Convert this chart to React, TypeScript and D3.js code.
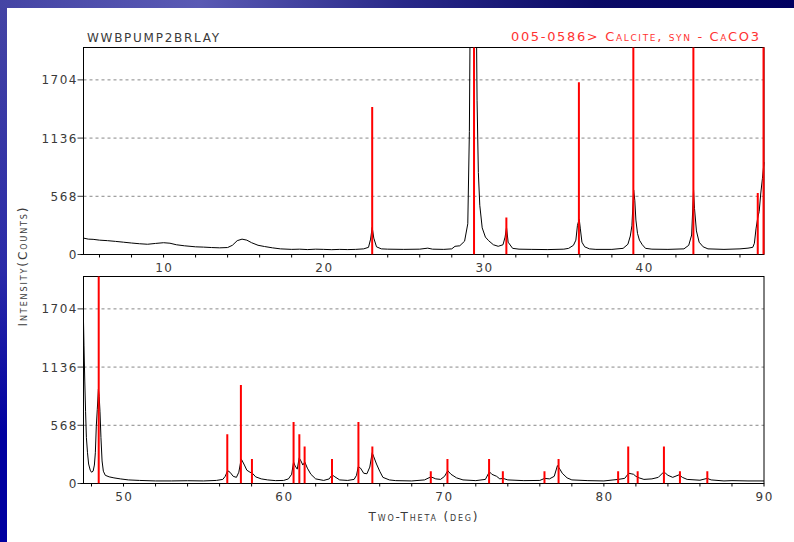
import React from 'react'
import * as d3 from 'd3'

const W = 794
const H = 542

const sampleName = 'WWBPUMP2BRLAY'
const refName = '005-0586> Calcite, syn - CaCO3'
const yLabel = 'Intensity(Counts)'
const xLabel = 'Two-Theta (deg)'

const yTicks = [0, 568, 1136, 1704]
const topTickLabels = [10, 20, 30, 40]
const bottomTickLabels = [50, 60, 70, 80, 90]

// measured pattern, [2-theta, counts]
const topTrace: [number, number][] = [
  [5.0, 160], [5.3, 150], [5.6, 148], [6.0, 140], [6.5, 135], [7.0, 128], [7.5, 120], [8.0, 112],
  [8.5, 105], [9.0, 100], [9.5, 108], [10.0, 115], [10.4, 110], [10.8, 95], [11.3, 85], [12.0, 75],
  [12.5, 72], [13.0, 68], [13.5, 65], [14.0, 68], [14.3, 90], [14.6, 135], [14.9, 150], [15.2, 140],
  [15.5, 115], [15.9, 90], [16.3, 78], [16.8, 65], [17.3, 55], [18.0, 50], [18.5, 52], [19.0, 48],
  [19.5, 52], [20.0, 50], [20.5, 47], [21.0, 50], [21.5, 48], [22.0, 50], [22.5, 55], [22.8, 70],
  [22.93, 150], [23.03, 265], [23.13, 160], [23.3, 75], [23.6, 55], [24.0, 52], [25.0, 50], [26.0, 52],
  [26.5, 62], [26.8, 52], [27.5, 50], [28.0, 55], [28.2, 80], [28.5, 85], [28.8, 130], [29.0, 300],
  [29.1, 1200], [29.2, 3500], [29.39, 9000], [29.5, 3000], [29.58, 1500], [29.66, 800], [29.75, 480],
  [29.9, 260], [30.1, 170], [30.3, 135], [30.6, 95], [30.9, 80], [31.2, 95], [31.33, 170], [31.42, 265],
  [31.52, 120], [31.8, 60], [32.2, 52], [33.0, 50], [34.0, 48], [35.0, 52], [35.3, 60], [35.6, 90],
  [35.75, 140], [35.85, 285], [35.96, 345], [36.03, 250], [36.13, 120], [36.3, 75], [36.6, 55],
  [37.0, 50], [38.0, 50], [38.7, 60], [39.0, 100], [39.15, 180], [39.25, 280], [39.36, 630], [39.43, 530],
  [39.5, 336], [39.6, 206], [39.72, 140], [39.9, 95], [40.1, 60], [40.5, 52], [41.5, 50], [42.5, 55],
  [42.8, 90], [42.98, 190], [43.1, 630], [43.16, 450], [43.28, 230], [43.45, 120], [43.7, 75], [44.0, 55],
  [45.0, 50], [46.0, 55], [46.5, 62], [46.8, 70], [46.9, 110], [47.0, 250], [47.1, 350], [47.2, 420],
  [47.3, 600], [47.4, 740], [47.5, 900],
]

const bottomTrace: [number, number][] = [
  [47.5, 1580], [47.53, 1350], [47.58, 1000], [47.63, 700], [47.68, 450], [47.75, 300], [47.82, 190],
  [47.92, 130], [48.0, 110], [48.1, 120], [48.18, 180], [48.24, 300], [48.3, 560], [48.36, 720],
  [48.43, 920], [48.48, 850], [48.53, 700], [48.59, 450], [48.66, 220], [48.74, 120], [48.86, 80],
  [49.1, 65], [49.4, 55], [49.8, 45], [50.3, 35], [51.0, 30], [52.0, 25], [53.0, 25], [54.0, 27],
  [55.0, 25], [55.8, 30], [56.2, 40], [56.35, 70], [56.5, 125], [56.65, 110], [56.85, 70], [57.05, 60],
  [57.2, 110], [57.35, 240], [57.45, 210], [57.55, 180], [57.7, 130], [57.9, 110], [58.05, 100],
  [58.25, 65], [58.6, 45], [59.0, 35], [59.5, 28], [60.0, 30], [60.3, 45], [60.5, 90], [60.62, 210],
  [60.72, 170], [60.85, 140], [60.97, 250], [61.08, 220], [61.2, 180], [61.32, 210], [61.48, 150],
  [61.7, 90], [62.0, 45], [62.5, 30], [62.85, 45], [63.02, 85], [63.2, 65], [63.5, 35], [64.0, 30],
  [64.4, 40], [64.55, 80], [64.66, 165], [64.8, 150], [65.0, 100], [65.2, 95], [65.38, 160], [65.53, 300],
  [65.63, 260], [65.8, 190], [66.0, 120], [66.2, 60], [66.6, 35], [67.0, 28], [68.0, 25], [68.8, 35],
  [69.2, 65], [69.5, 45], [69.8, 40], [70.05, 70], [70.25, 125], [70.45, 90], [70.8, 55], [71.2, 35],
  [72.0, 28], [72.6, 40], [72.85, 115], [73.0, 90], [73.3, 70], [73.5, 45], [73.7, 50], [74.0, 35],
  [75.0, 28], [76.0, 30], [76.3, 50], [76.6, 45], [76.9, 70], [77.1, 175], [77.25, 140], [77.4, 100],
  [77.7, 55], [78.0, 35], [79.0, 28], [80.0, 25], [80.9, 40], [81.3, 50], [81.55, 100], [81.7, 95],
  [81.85, 90], [82.0, 70], [82.2, 55], [82.5, 40], [83.0, 45], [83.4, 60], [83.72, 110], [83.85, 100],
  [84.0, 80], [84.3, 60], [84.7, 85], [84.9, 60], [85.2, 40], [86.0, 32], [86.45, 50], [86.7, 35],
  [87.5, 25], [88.0, 28], [89.0, 25], [90.0, 25],
]

// reference card lines, [2-theta, relative intensity %]
const topSticks: [number, number][] = [
  [23.03, 12], [29.39, 100], [31.41, 3], [35.94, 14], [39.34, 18], [43.09, 18], [47.11, 5], [47.47, 17],
]
const bottomSticks: [number, number][] = [
  [48.45, 17], [56.48, 4], [57.33, 8], [58.02, 2], [60.62, 5], [60.98, 4], [61.31, 3], [63.02, 2],
  [64.67, 5], [65.54, 3], [69.19, 1], [70.23, 2], [72.83, 2], [73.69, 1], [76.29, 1], [77.17, 2],
  [80.89, 1], [81.52, 3], [82.11, 1], [83.75, 3], [84.75, 1], [86.46, 1],
]
const stickScale = 120 // counts per 1 %

const yMax = 2020
const left = 83.5
const right = 764

const panels = [
  { id: 'top', domain: [5, 47.5], bottom: 254.5, top: 47.5, trace: topTrace, sticks: topSticks, labels: topTickLabels, minor: d3.range(6, 47.5, 2) },
  { id: 'bot', domain: [47.5, 90], bottom: 483.5, top: 276.5, trace: bottomTrace, sticks: bottomSticks, labels: bottomTickLabels, minor: d3.range(48, 90.1, 2) },
]

const font = '"DejaVu Sans", sans-serif'
const ink = '#3a3a3a'

function Panel({ p }: { p: typeof panels[number] }) {
  const x = d3.scaleLinear().domain(p.domain).range([left, right])
  const y = d3.scaleLinear().domain([0, yMax]).range([p.bottom, p.top])
  const line = d3.line<[number, number]>().x(d => x(d[0])).y(d => y(d[1]))
  return (
    <g>
      <defs>
        <clipPath id={`clip-${p.id}`}>
          <rect x={left} y={p.top} width={right - left + 2} height={p.bottom - p.top} />
        </clipPath>
      </defs>
      {yTicks.slice(1).map(t => (
        <line key={t} x1={left} x2={right} y1={y(t)} y2={y(t)} stroke="#888" strokeDasharray="3,3" strokeWidth={1} />
      ))}
      {yTicks.map(t => (
        <g key={t}>
          <line x1={left - 6} x2={left} y1={y(t)} y2={y(t)} stroke={ink} />
          <text x={left - 5.5} y={y(t) + 4.5} textAnchor="end" fontFamily={font} fontSize={12} fill={ink} letterSpacing={1.5}>{t}</text>
        </g>
      ))}
      <rect x={left} y={p.top} width={right - left} height={p.bottom - p.top} fill="none" stroke="#000" strokeWidth={1} />
      <line x1={left - 3} x2={right} y1={p.bottom} y2={p.bottom} stroke="#000" />
      {p.minor.map(t => (
        <line key={t} x1={x(t)} x2={x(t)} y1={p.bottom} y2={p.bottom + 3} stroke="#000" />
      ))}
      {p.labels.map(t => (
        <text key={t} x={x(t) + 0.75} y={p.bottom + 17} textAnchor="middle" fontFamily={font} fontSize={12} fill={ink} letterSpacing={1.5}>{t}</text>
      ))}
      <g clipPath={`url(#clip-${p.id})`}>
        <path d={line(p.trace) ?? ''} fill="none" stroke="#000" strokeWidth={1} />
        {p.sticks.map(([t, v]) => (
          <line key={t} x1={x(t)} x2={x(t)} y1={p.bottom} y2={y(v * stickScale)} stroke="#ff0000" strokeWidth={2} />
        ))}
      </g>
    </g>
  )
}

export default function App() {
  return (
    <svg width={W} height={H} style={{ position: 'absolute', left: 0, top: 0, display: 'block' }}>
      <defs>
        <linearGradient id="topBand" x1="0" x2="1" y1="0" y2="0">
          <stop offset="0" stopColor="#4444a4" />
          <stop offset="0.25" stopColor="#5a5ab4" />
          <stop offset="0.5" stopColor="#2a2a8a" />
          <stop offset="0.75" stopColor="#0a0a66" />
          <stop offset="1" stopColor="#000060" />
        </linearGradient>
        <linearGradient id="leftBand" x1="0" x2="0" y1="0" y2="1">
          <stop offset="0" stopColor="#4444a4" />
          <stop offset="0.5" stopColor="#2a2aa8" />
          <stop offset="0.8" stopColor="#0000a0" />
          <stop offset="1" stopColor="#0000a0" />
        </linearGradient>
      </defs>
      <rect x={0} y={0} width={W} height={H} fill="#fff" />
      <rect x={0} y={0} width={7} height={H} fill="url(#leftBand)" />
      <rect x={0} y={0} width={W} height={8} fill="url(#topBand)" />

      <text x={87} y={42} fontFamily={font} fontSize={12} fill={ink} textLength={132} lengthAdjust="spacing">{sampleName}</text>
      <text x={511} y={41} fontFamily={font} fontSize={13} fill="#ff3333" style={{ fontVariant: 'small-caps' }} textLength={248} lengthAdjust="spacing">{refName}</text>

      {panels.map(p => <Panel key={p.id} p={p} />)}

      <text transform="translate(27,267) rotate(-90)" textAnchor="middle" fontFamily={font} fontSize={12} fill={ink} style={{ fontVariant: 'small-caps' }} textLength={119} lengthAdjust="spacing">{yLabel}</text>
      <text x={423} y={521} textAnchor="middle" fontFamily={font} fontSize={12} fill={ink} style={{ fontVariant: 'small-caps' }} textLength={109} lengthAdjust="spacing">{xLabel}</text>
    </svg>
  )
}
